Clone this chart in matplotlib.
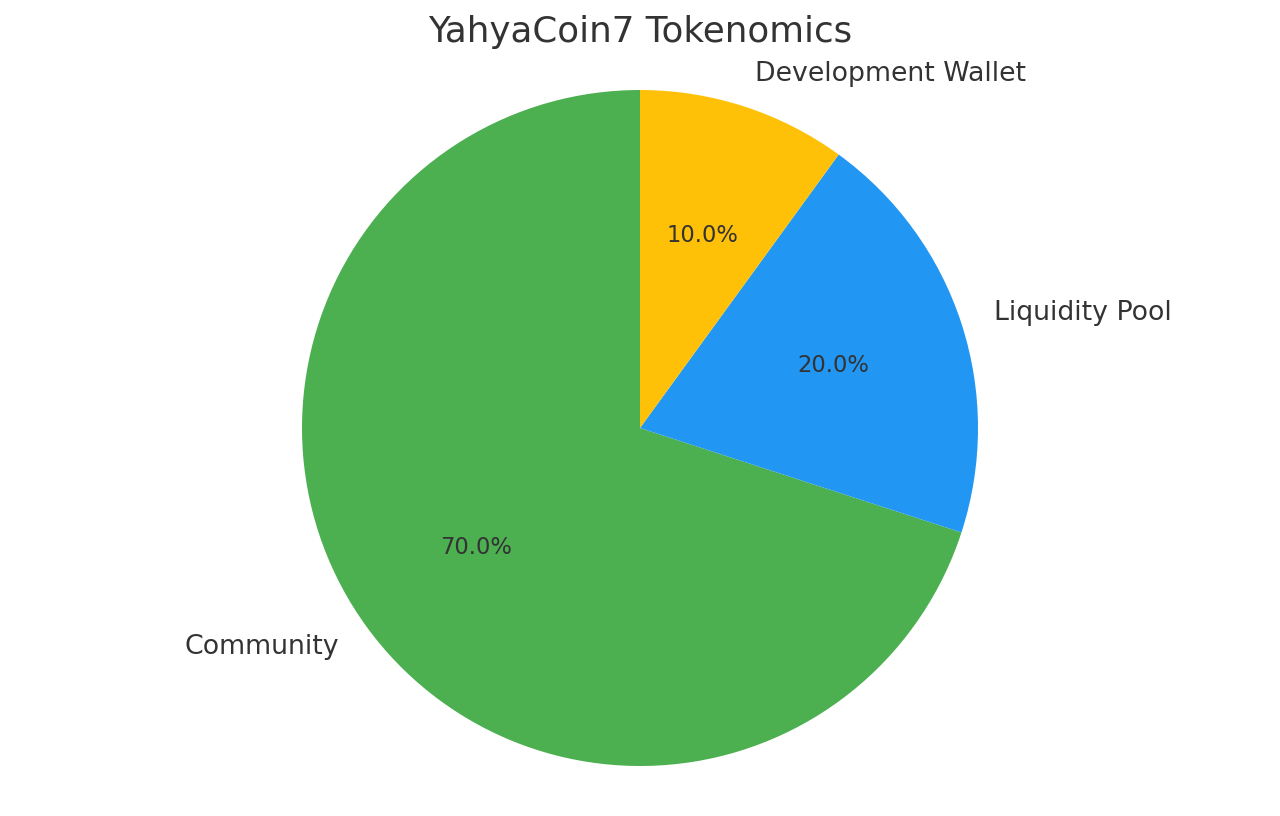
import matplotlib.pyplot as plt

labels = ['Community', 'Liquidity Pool', 'Development Wallet']
sizes = [70, 20, 10]
colors = ['#4CAF50', '#2196F3', '#FFC107']

fig = plt.figure(figsize=(12.8, 8.16), dpi=100)
ax = fig.add_axes([302/1280, 50/816, 676/1280, 676/816])

wedges, texts, autotexts = ax.pie(sizes, labels=labels, colors=colors,
                                  autopct='%1.1f%%', startangle=90,
                                  textprops={'color': '#333333'})
for t in texts:
    t.set_fontsize(19.3)
for t in autotexts:
    t.set_fontsize(16.3)
ax.set_xlim(-1, 1)
ax.set_ylim(-1, 1)
ax.axis('off')

fig.text(0.5, 1 - 32/816, 'YahyaCoin7 Tokenomics', ha='center', va='center',
         fontsize=25.7, color='#333333')

plt.savefig('out.png', dpi=100)
